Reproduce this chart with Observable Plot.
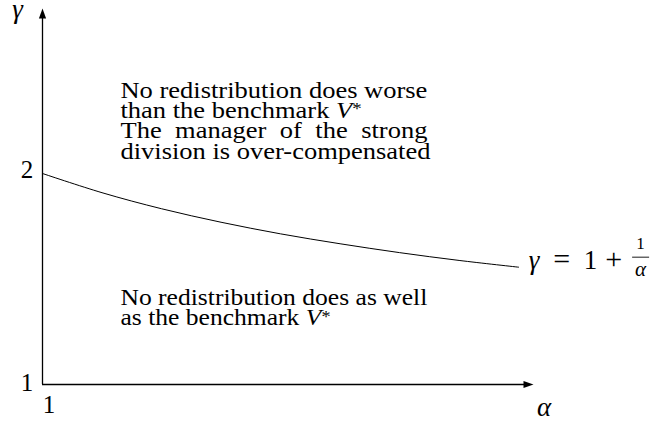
<!DOCTYPE html>
<html>
<head>
<meta charset="utf-8">
<script src="https://cdn.jsdelivr.net/npm/d3@7"></script>
<script src="https://cdn.jsdelivr.net/npm/@observablehq/plot@0.6"></script>
<style>
html,body{margin:0;padding:0;background:#fff;}
#chart svg{display:block;}
</style>
</head>
<body>
<div id="chart"></div>
<script>
// curve gamma = 1 + 1/alpha
const alphaValues = [1.0, 1.1, 1.2, 1.3, 1.4, 1.5, 1.6, 1.7, 1.8];
const gammaValues = [2.0, 1.909, 1.833, 1.769, 1.714, 1.667, 1.625, 1.588, 1.556];
const alphaAxisEnd = 1.825;
const gammaAxisEnd = 2.782;
const yTickValues = [1, 2];
const yTickLabels = ["1", "2"];
const xTickValues = [1];
const xTickLabels = ["1"];
const upperText = ["No redistribution does worse", "than the benchmark V*", "The manager of the strong", "division is over-compensated"];
const upperJustify = [true, false, true, true];
const lowerText = ["No redistribution does as well", "as the benchmark V*"];
const lowerJustify = [true, false];
const upperAnchor = [{alpha: 1.131, gamma: 2.071}];
const lowerAnchor = [{alpha: 1.131, gamma: 1.280}];
const curveLabelParts = ["γ", "=", "1", "+"];
const curveLabelFraction = ["1", "α"];
const axisLabelX = "α";
const axisLabelY = "γ";

const curve = alphaValues.map((a, i) => ({alpha: a, gamma: gammaValues[i]}));
const curveEnd = [curve[curve.length - 1]];
const serif = "Liberation Serif";

const arrowUp = {draw(ctx) { ctx.moveTo(0, 0); ctx.lineTo(3.6, 10); ctx.lineTo(-3.6, 10); ctx.closePath(); }};
const arrowRight = {draw(ctx) { ctx.moveTo(0, 0); ctx.lineTo(-10, 3.6); ctx.lineTo(-10, -3.6); ctx.closePath(); }};

const svg = Plot.plot({
  width: 654, height: 423,
  marginLeft: 0, marginRight: 0, marginTop: 0, marginBottom: 0,
  style: {background: "#fff", fontFamily: serif, overflow: "visible"},
  x: {domain: [1, alphaAxisEnd], range: [42, 533], axis: null},
  y: {domain: [1, gammaAxisEnd], range: [384, 8], axis: null},
  marks: [
    Plot.ruleY([1], {x1: 1, x2: alphaAxisEnd - 0.01, stroke: "#000", strokeWidth: 1.3}),
    Plot.ruleX([1], {y1: 1, y2: gammaAxisEnd - 0.03, stroke: "#000", strokeWidth: 1.3}),
    Plot.dot([{alpha: alphaAxisEnd, gamma: 1}], {x: "alpha", y: "gamma", symbol: arrowRight, fill: "#000", stroke: "none"}),
    Plot.dot([{alpha: 1, gamma: gammaAxisEnd}], {x: "alpha", y: "gamma", symbol: arrowUp, fill: "#000", stroke: "none"}),
    Plot.line(curve, {x: "alpha", y: "gamma", curve: "catmull-rom", stroke: "#000", strokeWidth: 1}),
    Plot.text([yTickValues[1]], {x: 1, y: d => d, text: () => yTickLabels[1], dx: -15.5, dy: -4, fontSize: 25, fontFamily: serif, fill: "#000"}),
    Plot.text([yTickValues[0]], {x: 1, y: d => d, text: () => yTickLabels[0], dx: -15.5, dy: -2, fontSize: 25, fontFamily: serif, fill: "#000"}),
    Plot.text(xTickValues, {x: d => d, y: 1, text: (d, i) => xTickLabels[i], dx: 6.5, dy: 20, fontSize: 25, fontFamily: serif, fill: "#000"}),
    Plot.text([axisLabelY], {x: 1, y: gammaAxisEnd, text: d => d, dx: -25, dy: 9, lineAnchor: "bottom", fontSize: 27, fontStyle: "italic", fontFamily: serif, fill: "#000"}),
    Plot.text([axisLabelX], {x: alphaAxisEnd, y: 1, text: d => d, dx: 10.5, dy: 31, lineAnchor: "bottom", fontSize: 27, fontStyle: "italic", fontFamily: serif, fill: "#000"}),
    Plot.text(upperAnchor, {x: "alpha", y: "gamma", text: () => upperText.join("\n"), textAnchor: "start", lineAnchor: "bottom", lineHeight: 20.3 / 22.5, fontSize: 22.5, fontFamily: serif, fill: "#000"}),
    Plot.text(lowerAnchor, {x: "alpha", y: "gamma", text: () => lowerText.join("\n"), textAnchor: "start", lineAnchor: "bottom", lineHeight: 20.3 / 22.5, fontSize: 22.5, fontFamily: serif, fill: "#000"}),
    Plot.text(curveEnd, {x: "alpha", y: "gamma", text: () => curveLabelParts.join(" "), textAnchor: "start", lineAnchor: "bottom", dx: 7, dy: 2, fontSize: 27, fontFamily: serif, fill: "#000"})
  ]
});
document.getElementById("chart").append(svg);

const NS = "http://www.w3.org/2000/svg";
const BOX = 307;
const allTexts = Array.from(svg.querySelectorAll("text"));
function decorateStar(span) {
  const t = span.textContent;
  if (!t.endsWith("V*")) return;
  span.textContent = t.slice(0, -2);
  const v = document.createElementNS(NS, "tspan");
  v.setAttribute("font-style", "italic");
  v.textContent = "V";
  const s = document.createElementNS(NS, "tspan");
  s.setAttribute("font-size", "16");
  s.setAttribute("baseline-shift", "4");
  s.textContent = "*";
  span.append(v, s);
}
function fixBlock(firstLine, justify) {
  const t = allTexts.find(e => e.textContent.startsWith(firstLine));
  if (!t) return;
  const spans = Array.from(t.querySelectorAll("tspan"));
  const SX = BOX / spans[0].getComputedTextLength();
  spans.forEach((s, i) => {
    if (justify[i] && i > 0) {
      const L = s.getComputedTextLength();
      const n = (s.textContent.match(/ /g) || []).length;
      if (n) s.style.wordSpacing = Math.max(0, (BOX / SX - L) / n) + "px";
    }
  });
  spans.forEach(decorateStar);
  t.setAttribute("transform", (t.getAttribute("transform") || "") + ` scale(${SX},1)`);
}
fixBlock(upperText[0], upperJustify);
fixBlock(lowerText[0], lowerJustify);

const lab = allTexts.find(e => e.textContent === curveLabelParts.join(" "));
if (lab) {
  lab.textContent = "";
  lab.setAttribute("text-anchor", "middle");
  const centers = [8.5, 36, 65, 88];
  curveLabelParts.forEach((p, i) => {
    const s = document.createElementNS(NS, "tspan");
    s.setAttribute("x", centers[i]);
    if (i === 0) s.setAttribute("font-style", "italic");
    if (i === 1 || i === 3) s.setAttribute("font-size", "30");
    s.textContent = p;
    lab.append(s);
  });
  const tr = lab.getAttribute("transform") || "";
  const parent = lab.parentNode;
  const cx = 115;
  const num = document.createElementNS(NS, "text");
  num.setAttribute("transform", tr);
  num.setAttribute("x", cx); num.setAttribute("y", -20);
  num.setAttribute("text-anchor", "middle"); num.setAttribute("font-size", "17");
  num.textContent = curveLabelFraction[0];
  const den = document.createElementNS(NS, "text");
  den.setAttribute("transform", tr);
  den.setAttribute("x", cx); den.setAttribute("y", 7);
  den.setAttribute("text-anchor", "middle"); den.setAttribute("font-size", "21");
  den.setAttribute("font-style", "italic");
  den.textContent = curveLabelFraction[1];
  const bar = document.createElementNS(NS, "line");
  bar.setAttribute("transform", tr);
  bar.setAttribute("x1", cx - 8.5); bar.setAttribute("x2", cx + 8.5);
  bar.setAttribute("y1", -12); bar.setAttribute("y2", -12);
  bar.setAttribute("stroke", "#000"); bar.setAttribute("stroke-width", "0.9");
  parent.append(num, den, bar);
}
</script>
</body>
</html>
